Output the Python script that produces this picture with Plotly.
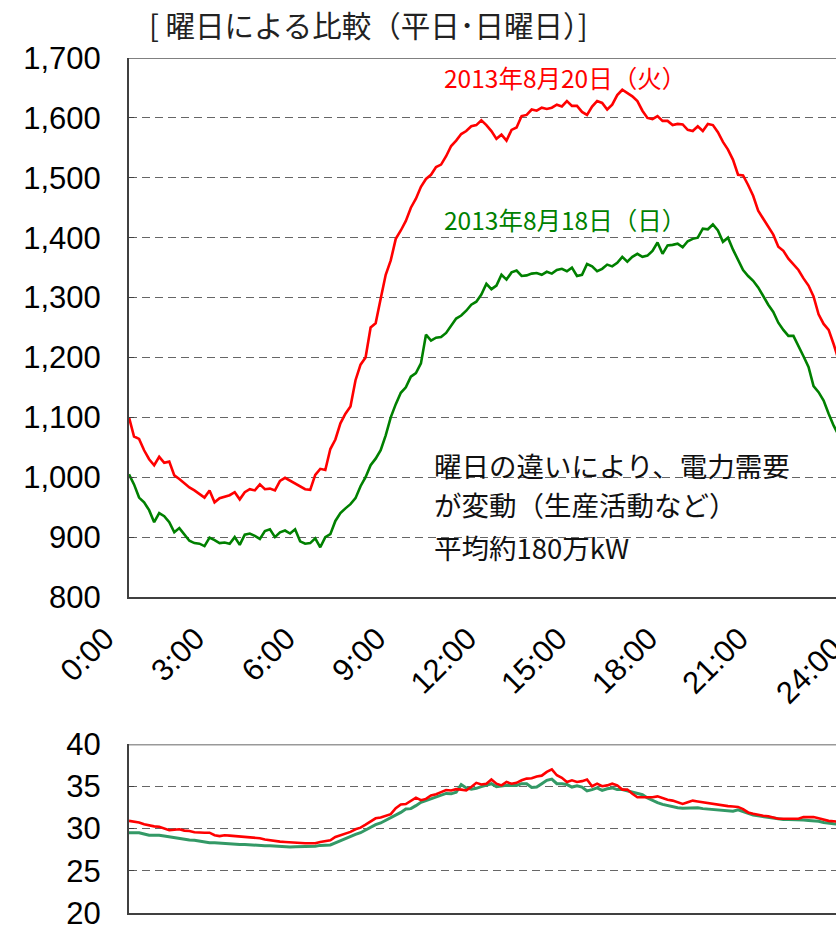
import plotly.graph_objects as go

# --- data (10-minute readings, 0:00 onwards) ---
HOURS_PER_STEP = 1 / 6

demand_weekday = [  # 2013-08-20 (Tue), 10^4 kW
    1100, 1068, 1064, 1045, 1030, 1020, 1034, 1024, 1026, 1003, 997, 990,
    983, 978, 972, 966, 978, 958, 965, 967, 970, 975, 963, 975,
    980, 978, 988, 980, 981, 978, 994, 999, 994, 990, 984, 980,
    979, 1004, 1014, 1012, 1047, 1063, 1090, 1106, 1118, 1162, 1188, 1200,
    1250, 1257, 1298, 1338, 1362, 1398, 1412, 1428, 1450, 1465, 1485, 1498,
    1505, 1518, 1522, 1536, 1553, 1562, 1573, 1578, 1586, 1588, 1596, 1588,
    1578, 1565, 1572, 1562, 1580, 1584, 1603, 1605, 1614, 1612, 1617, 1615,
    1617, 1622, 1619, 1628, 1620, 1620, 1610, 1605, 1619, 1628, 1625, 1614,
    1622, 1638, 1647, 1641, 1636, 1628, 1612, 1600, 1598, 1603, 1595, 1595,
    1588, 1590, 1589, 1580, 1578, 1586, 1578, 1590, 1588, 1576, 1560, 1547,
    1530, 1505, 1504, 1488, 1470, 1445, 1432, 1420, 1405, 1385, 1378, 1365,
    1356, 1346, 1332, 1320, 1302, 1272, 1256, 1246, 1222, 1195, 1175,
]

demand_sunday = [  # 2013-08-18 (Sun), 10^4 kW
    1005, 988, 966, 958, 945, 925, 940, 935, 925, 908, 915, 905,
    894, 890, 889, 885, 899, 895, 890, 891, 889, 900, 887, 904,
    906, 902, 897, 910, 913, 900, 908, 911, 906, 913, 893, 889,
    890, 898, 883, 900, 905, 927, 940, 948, 955, 965, 985, 1000,
    1020, 1031, 1045, 1070, 1100, 1122, 1141, 1150, 1168, 1174, 1190, 1238,
    1228, 1233, 1234, 1241, 1253, 1265, 1270, 1278, 1288, 1293, 1305, 1323,
    1314, 1320, 1338, 1330, 1342, 1345, 1336, 1337, 1340, 1341, 1338, 1343,
    1340, 1346, 1348, 1344, 1350, 1336, 1338, 1356, 1352, 1344, 1348, 1355,
    1352, 1358, 1368, 1360, 1368, 1373, 1368, 1370, 1378, 1392, 1373, 1387,
    1388, 1390, 1384, 1394, 1398, 1400, 1415, 1414, 1422, 1412, 1393, 1400,
    1380, 1364, 1346, 1336, 1328, 1317, 1302, 1288, 1276, 1258, 1246, 1236,
    1236, 1220, 1202, 1184, 1152, 1142, 1128, 1106, 1086, 1070, 1050,
]

temp_weekday = [  # deg C
    30.9, 30.8, 30.7, 30.5, 30.35, 30.25, 30.2, 30.0, 29.8, 29.85, 29.9, 29.75,
    29.7, 29.55, 29.5, 29.5, 29.5, 29.2, 29.1, 29.2, 29.15, 29.1, 29.05, 29.0,
    29.0, 28.9, 28.85, 28.7, 28.6, 28.5, 28.45, 28.4, 28.35, 28.3, 28.3, 28.25,
    28.25, 28.25, 28.4, 28.5, 28.6, 29.0, 29.2, 29.4, 29.6, 29.9, 30.1, 30.45,
    30.8, 31.2, 31.3, 31.5, 31.7, 32.4, 32.85, 32.9, 33.3, 33.65, 33.35, 33.5,
    33.9, 34.05, 34.3, 34.55, 34.5, 34.65, 34.6, 34.5, 34.9, 35.4, 35.2, 35.3,
    35.8, 35.3, 35.1, 35.5, 35.3, 35.4, 35.7, 35.9, 35.95, 36.15, 36.25, 36.7,
    37.0, 36.3, 36.0, 35.5, 35.7, 35.5, 35.6, 35.8, 35.0, 35.3, 35.0, 35.1,
    35.3, 35.1, 34.6, 34.6, 34.1, 33.7, 33.7, 33.7, 33.7, 33.8, 33.6, 33.4,
    33.3, 33.1, 32.9, 33.1, 33.3, 33.2, 33.1, 33.0, 32.9, 32.8, 32.7, 32.65,
    32.6, 32.55, 32.3, 31.9, 31.75, 31.6, 31.5, 31.45, 31.3, 31.15, 31.15, 31.15,
    31.15, 31.15, 31.35, 31.35, 31.35, 31.2, 31.05, 30.9, 30.85, 30.8, 30.75,
]

temp_sunday = [  # deg C
    29.5, 29.5, 29.5, 29.35, 29.2, 29.2, 29.2, 29.1, 29.0, 28.95, 28.85, 28.75,
    28.65, 28.6, 28.5, 28.4, 28.3, 28.3, 28.25, 28.25, 28.2, 28.15, 28.1, 28.1,
    28.05, 28.0, 27.95, 27.95, 27.95, 27.9, 27.85, 27.8, 27.8, 27.85, 27.85, 27.85,
    27.85, 27.9, 28.0, 28.05, 28.05, 28.3, 28.55, 28.8, 29.1, 29.3, 29.5, 29.8,
    30.15, 30.45, 30.65, 30.95, 31.25, 31.6, 31.9, 32.3, 32.35, 32.7, 33.1, 33.3,
    33.5, 33.75, 33.95, 34.15, 34.1, 34.3, 35.2, 34.8, 34.65, 34.75, 34.95, 35.1,
    35.3, 34.95, 35.05, 35.1, 35.1, 35.1, 35.3, 35.3, 34.85, 34.9, 35.3, 35.7,
    35.85, 35.3, 35.3, 35.2, 34.9, 35.05, 34.9, 34.45, 34.6, 34.8, 34.5, 34.7,
    34.8, 34.6, 34.6, 34.45, 34.3, 34.2, 34.0, 33.6, 33.3, 33.05, 32.85, 32.7,
    32.55, 32.45, 32.4, 32.4, 32.45, 32.45, 32.35, 32.3, 32.25, 32.2, 32.15, 32.1,
    32.05, 32.2, 32.0, 31.75, 31.6, 31.5, 31.4, 31.3, 31.2, 31.1, 31.05, 31.05,
    31.05, 31.05, 31.0, 30.95, 30.9, 30.85, 30.7, 30.6, 30.55, 30.5, 30.5,
]

hours = [i * HOURS_PER_STEP for i in range(len(demand_weekday))]

tick_hours = [0, 3, 6, 9, 12, 15, 18, 21]
tick_labels = [f"{h}:00" for h in tick_hours]

X_MAX = 23.41  # the picture is cut just before 24:00

COLORS = {
    "weekday": "#ff0000",
    "sunday": "#008000",
    "sunday_temp": "#339966",
    "grid": "#666666",
    "axis": "#404040",
    "text": "#000000",
}
TICK_FONT = dict(family="Liberation Sans, Arial, sans-serif", size=31, color=COLORS["text"])
JP_FONT = "Noto Sans CJK JP, sans-serif"

fig = go.Figure()

# --- demand curves ---
fig.add_trace(go.Scatter(x=hours, y=demand_weekday, mode="lines",
                         line=dict(color=COLORS["weekday"], width=2.6),
                         xaxis="x", yaxis="y", showlegend=False))
fig.add_trace(go.Scatter(x=hours, y=demand_sunday, mode="lines",
                         line=dict(color=COLORS["sunday"], width=2.6),
                         xaxis="x", yaxis="y", showlegend=False))

# --- temperature curves ---
fig.add_trace(go.Scatter(x=hours, y=temp_sunday, mode="lines",
                         line=dict(color=COLORS["sunday_temp"], width=3),
                         xaxis="x2", yaxis="y2", showlegend=False))
fig.add_trace(go.Scatter(x=hours, y=temp_weekday, mode="lines",
                         line=dict(color=COLORS["weekday"], width=2.6),
                         xaxis="x2", yaxis="y2", showlegend=False))

grid_style = dict(showgrid=True, gridcolor=COLORS["grid"], gridwidth=1, griddash="8px,5px")
axis_line = dict(showline=True, linecolor=COLORS["axis"], linewidth=2, automargin=False)

fig.update_layout(
    width=836, height=926,
    margin=dict(l=129, r=0, t=58, b=13),
    paper_bgcolor="white", plot_bgcolor="white",
    xaxis=dict(domain=[0, 1], range=[0, X_MAX], anchor="y",
               tickvals=tick_hours, ticktext=tick_labels, tickangle=-45,
               tickfont=TICK_FONT, ticks="", ticklabelstandoff=9, ticklabelshift=-24,
               showgrid=False, zeroline=False, **axis_line),
    yaxis=dict(domain=[0.3696, 1], range=[800, 1700], dtick=100, tickformat=",d",
               tickfont=TICK_FONT, ticks="inside", ticklen=5, tickcolor=COLORS["axis"],
               ticklabelstandoff=20, zeroline=False, **grid_style, **axis_line),
    xaxis2=dict(domain=[0, 1], range=[0, X_MAX], anchor="y2",
                showticklabels=False, ticks="", showgrid=False, zeroline=False, **axis_line),
    yaxis2=dict(domain=[0, 0.1977], range=[20, 40], dtick=5,
                tickfont=TICK_FONT, ticks="inside", ticklen=5, tickcolor=COLORS["axis"],
                ticklabelstandoff=20, ticklabeloverflow="allow",
                zeroline=False, **grid_style, **axis_line),
    shapes=[
        dict(type="line", xref="paper", yref="y", x0=0, x1=1, y0=1700, y1=1700,
             line=dict(color="#808080", width=2)),
        dict(type="line", xref="paper", yref="y2", x0=0, x1=1, y0=40, y1=40,
             line=dict(color="#999999", width=3)),
    ],
    annotations=[
        dict(text="[ 曜日による比較（平日･日曜日）]", xref="paper", yref="paper",
             x=0.026, y=1.04, xanchor="left", yanchor="middle", showarrow=False,
             font=dict(family=JP_FONT, size=29.5, color="#222222")),
        dict(text="2013年8月20日（火）", xref="x", yref="y", x=14.42, y=1667,
             showarrow=False, font=dict(family=JP_FONT, size=24.5, color=COLORS["weekday"])),
        dict(text="2013年8月18日（日）", xref="x", yref="y", x=14.42, y=1430,
             showarrow=False, font=dict(family=JP_FONT, size=24.5, color=COLORS["sunday"])),
        dict(text="曜日の違いにより、電力需要", xref="x", yref="y", x=10.03, y=1020,
             xanchor="left", showarrow=False, font=dict(family=JP_FONT, size=27.5, color="#111111")),
        dict(text="が変動（生産活動など）", xref="x", yref="y", x=10.03, y=956,
             xanchor="left", showarrow=False, font=dict(family=JP_FONT, size=27.5, color="#111111")),
        dict(text="平均約180万kW", xref="x", yref="y", x=10.03, y=884,
             xanchor="left", showarrow=False, font=dict(family=JP_FONT, size=27.5, color="#111111")),
        # last tick label, partly outside the picture
        dict(text="24:00", xref="paper", yref="paper", x=0.962, y=0.284,
             xanchor="center", yanchor="middle",
             textangle=-45, showarrow=False, font=TICK_FONT),
    ],
)

# the page's default body margin would push the figure off its 836x926 frame
fig.write_html(
    "out.html",
    config={"displayModeBar": False},
    post_script="document.body.style.margin='0';document.body.style.overflow='hidden';",
)
